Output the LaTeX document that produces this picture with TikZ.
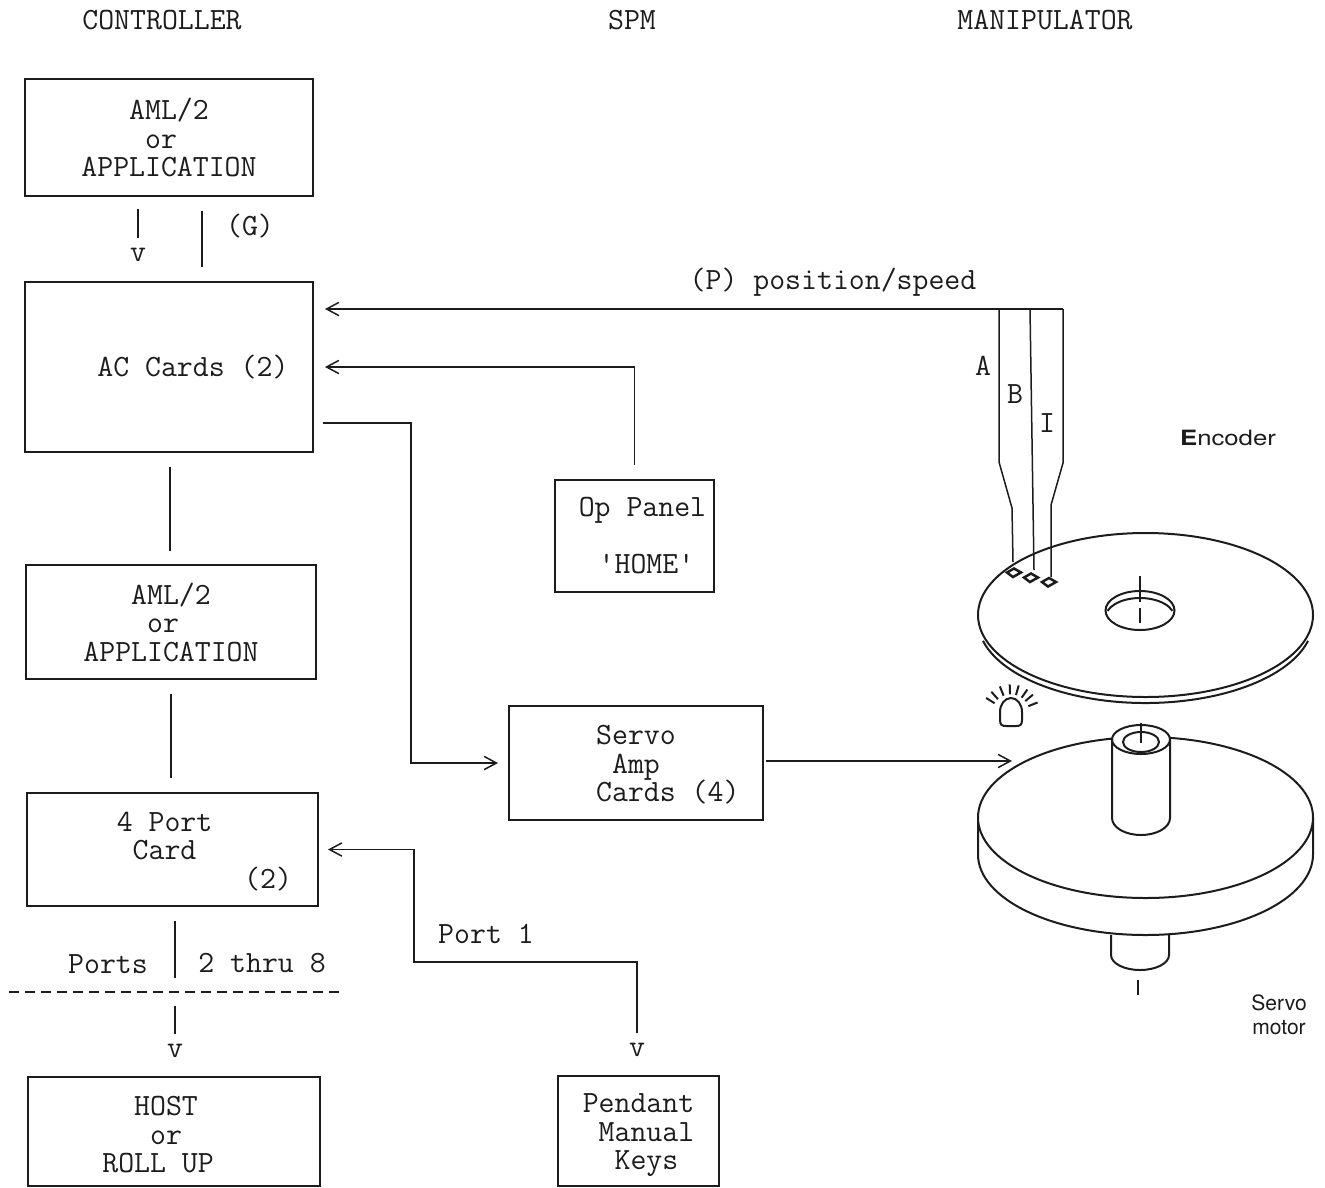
\documentclass[tikz,border=0pt]{standalone}
\usepackage{fontspec}
\usepackage{tikz}
\usetikzlibrary{arrows.meta,positioning,calc}
\newfontfamily\helv{TeX Gyre Heros}
\definecolor{trazo}{HTML}{1C1C1C}
\newcommand{\tsp}[1]{\hspace*{#1\fontdimen2\font}}
\newcommand{\alza}[1]{\rule{0pt}{#1}}

\begin{document}
\begin{tikzpicture}[x=0.02cm,y=-0.02cm,
    line width=0.03cm,color=trazo,
    >={Straight Barb[length=7pt,width=7.5pt]},
    caja/.style={draw=trazo,inner sep=0pt,outer sep=0pt,align=left,font=\fontsize{17.6}{16.2}\selectfont\ttfamily},
    rotulo/.style={inner sep=0pt,outer sep=0pt,font=\fontsize{17.6}{16.2}\selectfont\ttfamily},
    flecha/.style={rotulo,inner sep=0.2cm},
    marca/.style={inner sep=0pt,outer sep=0pt,align=center,font=\fontsize{12}{13.5}\selectfont\helv}]
  \useasboundingbox (0,0) rectangle (1325,1187);

  \node[rotulo] (tcontrol) at (162,20) {CONTROLLER};
  \node[rotulo] (tspm) at (632,20) {SPM};
  \node[rotulo] (tmanip) at (1045,20) {MANIPULATOR};

  % columna izquierda
  \node[caja,minimum width=5.76cm,minimum height=2.34cm] (aml) at (169,137.5)
    {\tsp{3}AML/2\\\tsp{4}or\\APPLICATION};
  \node[caja,minimum width=5.76cm,minimum height=3.4cm] (ac) at (169,367)
    {\tsp{3}AC Cards (2)};
  \node[caja,minimum width=5.8cm,minimum height=2.28cm] (amldos) at (171,622)
    {\tsp{3}AML/2\\\tsp{4}or\\APPLICATION};
  \node[caja,minimum width=5.82cm,minimum height=2.26cm] (port) at (172.5,849.5)
    {\alza{13pt}\tsp{4}4 Port\\\tsp{5}Card\\\tsp{12}(2)};
  \node[caja,minimum width=5.84cm,minimum height=2.18cm] (host) at (174,1131.5)
    {\alza{14.5pt}\tsp{2}HOST\\\tsp{3}or\\ROLL UP\tsp{2}};

  % columna central
  \node[caja,minimum width=3.18cm,minimum height=2.24cm] (panel) at (634.5,536)
    {\tsp{1}Op Panel\\\mbox{}\\\tsp{2.25}'HOME'};
  \node[caja,minimum width=5.08cm,minimum height=2.28cm] (servo) at (636,763)
    {\alza{13pt}\tsp{4}Servo\\\tsp{5}Amp\\\tsp{4}Cards (4)};
  \node[caja,minimum width=3.22cm,minimum height=2.2cm] (pendant) at (638.5,1131)
    {\alza{15.5pt}Pendant\\\tsp{1}Manual\\\tsp{2}Keys};

  % textos sueltos
  \node[flecha] (vuno) at (138,255) {v};
  \node[rotulo] (lg) at (250,226) {(G)};
  \node[rotulo] (lp) at (833,282) {(P) position/speed};
  \node[rotulo] (la) at (983,366) {A};
  \node[rotulo] (lb) at (1015,394) {B};
  \node[rotulo] (li) at (1047,423) {I};
  \node[rotulo] (lports) at (108,964) {Ports};
  \node[rotulo] (lthru) at (262,963) {2 thru 8};
  \node[rotulo] (lpuno) at (486,934) {Port 1};
  \node[flecha] (vhost) at (175,1051) {v};
  \node[flecha] (vpend) at (637,1050) {v};
  \node[marca] (lenc) at (1228,438) {\scalebox{1.22}[1]{\textbf{E}ncoder}};
  \node[marca] (lmot) at (1279,1015) {Servo\\motor};

  \coordinate (gx) at (202,240);
  \coordinate (dashl) at (9,992);
  \coordinate (dashr) at (339,992);
  \coordinate (acout) at (411,423);
  \coordinate (pb) at (414,962);
  \coordinate (ampin) at (1012,761);
  \coordinate (wa) at (999,309);
  \coordinate (wb) at (1030,309);
  \coordinate (wi) at (1063,309);

  % conectores
  \draw[shorten <=0.26cm] (vuno |- aml.south) -- (vuno.north);
  \draw[shorten <=0.3cm,shorten >=0.3cm] (gx |- aml.south) -- (gx |- ac.north);
  \draw[shorten <=0.3cm,shorten >=0.28cm] ($(ac.south)+(1,0)$) -- ($(ac.south |- amldos.north)+(1,0)$);
  \draw[shorten <=0.3cm,shorten >=0.3cm] (amldos.south) -- (amldos.south |- port.north);
  \draw[shorten <=0.3cm,shorten >=0.28cm] (vhost |- port.south) -- (vhost |- dashl);
  \draw[shorten <=0.28cm] (vhost |- dashl) -- (vhost.north);
  \draw[dash pattern=on 0.2cm off 0.12cm,line width=0.045cm] (dashl) -- (dashr);
  \draw[->,shorten >=0.24cm] (wi) -- (wi -| ac.east);
  \draw[->,shorten <=0.3cm,shorten >=0.24cm] (panel.north) |- (ac.east);
  \draw[->,shorten <=0.2cm,shorten >=0.22cm] (acout -| ac.east) -- (acout) |- (servo.west);
  \draw[->,shorten <=0.06cm] (ampin -| servo.east) -- (ampin);
  \draw[->,shorten >=0.2cm] (vpend.north) |- (pb) |- (port.east);

  % hilos del encoder
  \draw (wa) -- (999,462) -- (1012,508) -- (1013,562);
  \draw (wb) -- (1034,570);
  \draw (wi) -- (1063,463) -- (1051,505) -- (1051,577);
  \foreach \x/\y in {1007/572.5,1024/577.5,1042/582}{
    \draw[line width=0.05cm] (\x,\y) -- ++(7,-4) -- ++(7,4) -- ++(-8,4.5) -- cycle;
  }

  \begin{scope}[line width=0.04cm]
  % disco del encoder
  \draw (1145.5,615) ellipse [x radius=167.5,y radius=82];
  \draw (1145.5,621) ++(166:167.5 and 82) arc [start angle=166,end angle=14,x radius=167.5,y radius=82];
  \draw (1140,610.5) ellipse [x radius=34.5,y radius=19.5];
  \draw (1140,617.5) ++(-160:34.5 and 19.5) arc [start angle=-160,end angle=-20,x radius=34.5,y radius=19.5];
  \draw (1140,576) -- (1140,602);
  \draw (1140,608) -- (1140,623);

  % lampara
  \draw (1000,712) arc [start angle=180,end angle=360,x radius=11,y radius=14]
    -- (1022,720) .. controls (1022,725) and (1020,726) .. (1016,726) -- (1006,726)
    .. controls (1002,726) and (1000,725) .. (1000,720) -- cycle;
  \foreach \a in {148,132,112,92,74,55,40,22}{
    \draw (1010.7,713.3) ++(\a:19 and -19) -- ++(\a:10 and -10);
  }

  % motor
  \draw (1111,935) -- (1111,955) arc [start angle=180,end angle=0,x radius=29,y radius=15] -- (1169,935);
  \draw (1138,980) -- (1138,995);
  \draw[fill=white] (978,817.5) -- (978,854.5) arc [start angle=180,end angle=0,x radius=167.5,y radius=80.5] -- (1313,817.5);
  \draw[fill=white] (1145.5,817.5) ellipse [x radius=167.5,y radius=80.5];
  \draw[fill=white] (1112,740) -- (1112,818) arc [start angle=180,end angle=0,x radius=29,y radius=17] -- (1170,740);
  \draw[fill=white] (1141,739.5) ellipse [x radius=29,y radius=14.5];
  \draw (1141,742) ellipse [x radius=18,y radius=10];
  \draw (1141,723) -- (1141,743);
  \end{scope}
\end{tikzpicture}
\end{document}
